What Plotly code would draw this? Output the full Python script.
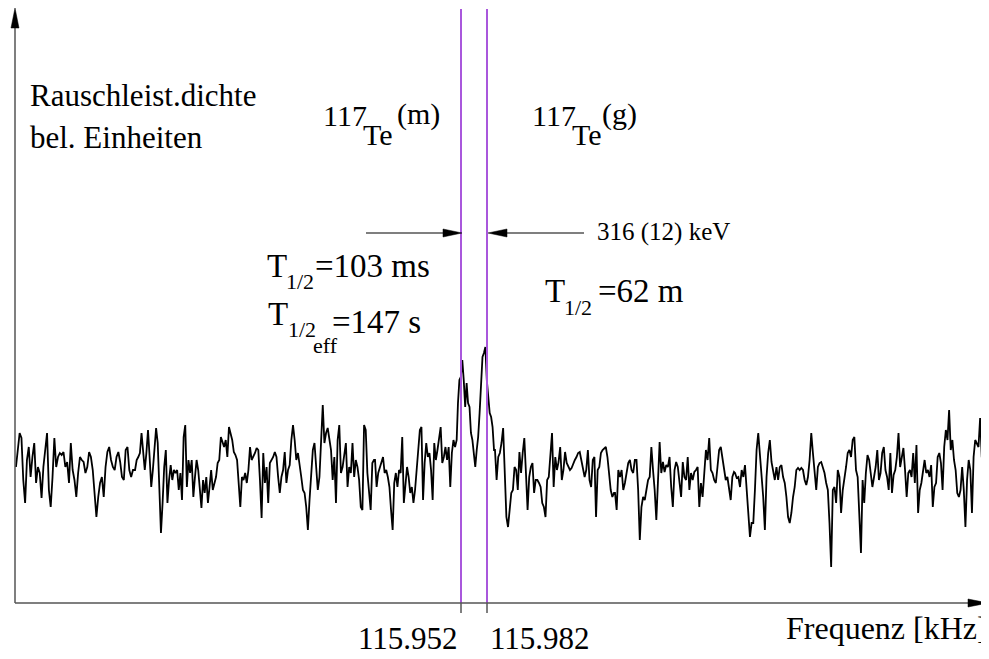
import numpy as np
import plotly.graph_objects as go

# ---- data (noise power density, arbitrary units) ----
seg1 = [136,156,170,165,123,100,143,156,126,146,160,120,136,130,105,136,153,170,113,96,126,165,136,146,150,148,151,136,141,120,160,133,123,106,130,146,143,141,130,136,151,146,133,113,86,106,120,126,106,136,151,156,143,136,133,146,151,141,126,123,153,156,133,126,133]
seg2 = [133,143,146,150,170,153,133,150,173,146,116,133,153,175,160,106,70,100,136,153,100,123,138,123,133,130,133,113,130,103,166,178,116,143,130,143,106,126,143,133,113,95,123,110,126,100,116,133,113,120,126,140,143,166,160,156,163,146,176,170,163,151,148,143,120,96,126,123,130,120,133,156,143,146]
seg3 = [150,155,153,123,85,150,120,136,100,140,143,146,151,146,126,110,126,133,151,120,133,138,163,178,163,143,150,140,126,113,110,96,73,103,133,153,160,130,113,126,166,198,160,170,175,166,153,123,146,100,163,178,130,136,146,160,116,136,130,160,126,143,136,123,96,93,178,173,130,110,93,140,143]
seg4a = [143,116,130,136,140,146,130,133,126,116,93,73,120,130,116,133,130,166,100,120,136,126,110,116,100,113,133,150,173,176,103,140,160,146,150,133,103,160,143,153,163,176,140,146,156,143,156,116,150,163,156,163]
seg4b = [200,223,226,243,223,196,220,200,196,170,163,150,136,153,166,190,213,246,250,256,223,206,190,186,176,153]
seg5 = [153,123,146,150,160,175,136,86,76,90,110,113,136,133,113,151,130,150,165,130,93,126,136,140,110,123,123,120,116,100,96,86,123,126,151,170,116,146,133,141,156,123,133,151,140,136,133,135,140,143,146,150,151,143,136,126,133,153,123,116,143,146,86,133,136,150,153,155,156,146,130,113,106,110]
seg6 = [110,93,133,126,133,113,120,130,140,143,133,130,143,143,113,63,96,106,103,113,123,126,156,133,113,83,130,161,130,141,131,138,136,146,116,96,133,141,136,123,106,141,126,123,146,113,130,123,131,133,136,96,120,106,130,153,143,165,133,130,123,120,136,153,156,146,133,123,126,113,103,126,131]
seg7 = [130,125,126,116,133,126,138,113,90,66,80,80,113,153,170,150,133,106,73,126,150,163,141,133,123,136,123,136,138,126,120,106,86,80,90,106,116,133,135,133,135,133,123,118,126,143,170,150,133,113,136,140,141,136,130,120,113,80,36,113,116,100,133,126,90,113,123,136,150,153,146,163,166,133,126,86]
seg8 = [50,123,100,130,148,143,126,116,126,136,153,123,130,150,156,133,126,113,150,110,128,133,146,170,136,146,155,133,106,130,133,126,150,120,158,90,113,120,133,143,130,133,126,138,96,116,120,146,150,140,113,156,173,163,193,153,163,143,133,110,106,113,136,113,76,123,143,133,90,146,163,160,156,185,146,143,126,140,130]
segments = [seg1, seg2, seg3, seg4a, seg4b, seg5, seg6, seg7, seg8]
# frequency span (kHz) covered by each segment
seg_bounds = [(115.4385, 115.5735), (115.5759, 115.7123), (115.7143, 115.8516),
              (115.8528, 115.9470), (115.9485, 115.9901), (115.9912, 116.1285),
              (116.1297, 116.2670), (116.2682, 116.4116), (116.4135, 116.5604)]
line_freqs = [115.952, 115.982]          # 117Te(m), 117Te(g)
tick_labels = ["115.952", "115.982"]

freq = np.concatenate([np.linspace(a, b, len(s)) for (a, b), s in zip(seg_bounds, segments)])
power = np.concatenate([np.array(s, dtype=float) for s in segments])

# ---- layout geometry (reference pixel frame; page body adds an 8 px margin) ----
OFF = 8
W, H = 989 - OFF, 659 - OFF
PL, PR, PT, PB = 15, 989, 12, 603          # plot area edges in reference pixels
ML, MR, MT, MB = PL - OFF, 989 - PR, PT - OFF, 659 - PB
PW, PH = PR - PL, PB - PT
XR = [115.43738, 116.56123]
YR = [0, 591]

def X(px):
    return (px - PL) / PW

def Y(py):
    return (PB - py) / PH

def fpx(f):
    return PL + (f - XR[0]) / (XR[1] - XR[0]) * PW

SERIF = "Liberation Serif"

fig = go.Figure()
fig.add_trace(go.Scatter(x=freq, y=power, mode="lines",
                         line=dict(color="black", width=1.8), hoverinfo="skip",
                         showlegend=False))

shapes = []
for f in line_freqs:
    shapes.append(dict(type="line", xref="x", yref="paper", x0=f, x1=f, y0=0, y1=Y(9),
                       line=dict(color="#A957DC", width=2)))
    shapes.append(dict(type="line", xref="x", yref="paper", x0=f, x1=f, y0=0, y1=Y(613),
                       line=dict(color="black", width=1)))
# axes
shapes.append(dict(type="line", xref="paper", yref="paper", x0=X(15), x1=X(972), y0=Y(603), y1=Y(603),
                   line=dict(color="#555555", width=1.5)))
shapes.append(dict(type="line", xref="paper", yref="paper", x0=X(15), x1=X(15), y0=Y(603), y1=Y(26),
                   line=dict(color="#555555", width=1.5)))

def tri(pts):
    d = "M " + " L ".join(f"{X(a):.5f},{Y(b):.5f}" for a, b in pts) + " Z"
    return dict(type="path", xref="paper", yref="paper", path=d,
                fillcolor="black", line=dict(color="black", width=0.5))

shapes.append(tri([(988, 603), (968, 599), (968, 607)]))   # x-axis arrow
shapes.append(tri([(15, 8), (11, 28), (19, 28)]))          # y-axis arrow

# dimension arrows pointing at the two lines
xl, xr_ = fpx(line_freqs[0]), fpx(line_freqs[1])
ya = 233
shapes.append(dict(type="line", xref="paper", yref="paper", x0=X(366), x1=X(xl - 15), y0=Y(ya), y1=Y(ya),
                   line=dict(color="#555555", width=1.5)))
shapes.append(tri([(xl + 1, ya), (xl - 18, ya - 4), (xl - 18, ya + 4)]))
shapes.append(dict(type="line", xref="paper", yref="paper", x0=X(xr_ + 15), x1=X(584), y0=Y(ya), y1=Y(ya),
                   line=dict(color="#555555", width=1.5)))
shapes.append(tri([(xr_ + 1, ya), (xr_ + 20, ya - 4), (xr_ + 20, ya + 4)]))

annotations = []

def txt(s, x, base, size=30, anchor="left"):
    annotations.append(dict(text=s, xref="paper", yref="paper", x=X(x), y=Y(base - 0.34 * size),
                            xanchor=anchor, yanchor="middle", showarrow=False,
                            font=dict(family=SERIF, size=size, color="black")))

txt("Rauschleist.dichte", 28, 106, size=31)
txt("bel. Einheiten", 28, 148, size=31)

txt("117", 321, 126)
txt("Te", 361, 145)
txt("(m)", 395, 124)
txt("117", 530, 126)
txt("Te", 570, 145)
txt("(g)", 600, 124)

txt("316 (12) keV", 595, 241, size=25)

txt("T", 265, 277, size=33)
txt("1/2", 284, 289, size=22)
txt("=103 ms", 313, 277, size=33)

txt("T", 266, 325, size=33)
txt("1/2", 286, 337, size=22)
txt("eff", 311, 353, size=22)
txt("=147 s", 330, 333, size=33)

txt("T", 543, 302, size=33)
txt("1/2", 562, 315, size=22)
txt("=62 m", 596, 302, size=33)

txt(tick_labels[0], fpx(line_freqs[0]) - 1, 649, size=31, anchor="right")
txt(tick_labels[1], fpx(line_freqs[1]) + 1, 649, size=31, anchor="left")
txt("Frequenz [kHz]", 990, 639, size=32, anchor="right")

fig.update_layout(
    width=W, height=H, margin=dict(l=ML, r=MR, t=MT, b=MB),
    paper_bgcolor="white", plot_bgcolor="white",
    xaxis=dict(range=XR, showgrid=False, zeroline=False, showticklabels=False,
               showline=False, ticks="", fixedrange=True),
    yaxis=dict(range=YR, showgrid=False, zeroline=False, showticklabels=False,
               showline=False, ticks="", fixedrange=True),
    shapes=shapes, annotations=annotations, showlegend=False,
)
fig.write_html("out.html")
